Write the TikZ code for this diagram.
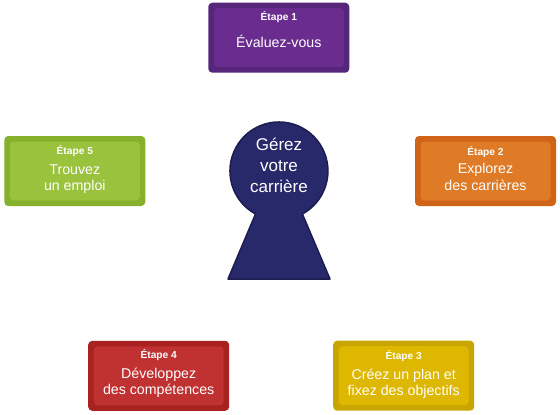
\documentclass[tikz,border=0pt]{standalone}
\usepackage{fontspec}
\setmainfont{Liberation Sans}
\definecolor{pfill}{HTML}{6A2D8F}\definecolor{pbord}{HTML}{55267A}
\definecolor{ofill}{HTML}{DF7A26}\definecolor{obord}{HTML}{CF6418}
\definecolor{gfill}{HTML}{9AC23C}\definecolor{gbord}{HTML}{86B12C}
\definecolor{rfill}{HTML}{C03131}\definecolor{rbord}{HTML}{A82222}
\definecolor{yfill}{HTML}{DEB700}\definecolor{ybord}{HTML}{C9A500}
\definecolor{navy}{HTML}{28296A}\definecolor{navyb}{HTML}{1C1C50}
\tikzset{
  stepbox/.style 2 args={fill=#2, rounded corners=4pt, minimum width=141pt,
    minimum height=70pt, inner sep=0pt,
    path picture={\fill[#1] ([shift={(5.5pt,5.5pt)}]path picture bounding box.south west)
      rectangle ([shift={(-5.5pt,-5.5pt)}]path picture bounding box.north east);}},
  steplbl/.style={text=white, inner sep=0pt, anchor=base, font=\fontsize{10.2}{12}\selectfont\bfseries},
  steptxt/.style={text=white, inner sep=0pt, anchor=base, font=\fontsize{14.2}{16}\selectfont},
  keytxt/.style={text=white, inner sep=0pt, anchor=base, font=\fontsize{17}{20}\selectfont},
  keyhole/.style={fill=navy, draw=navyb, line width=1.5pt, line join=round}
}
\begin{document}
\begin{tikzpicture}[x=1pt,y=-1pt]
\useasboundingbox (0,0) rectangle (560,415);
% keyhole
\draw[keyhole] (228,279) -- (255.5,214) arc[start angle=118.6, end angle=421.4, radius=49] -- (330,279) -- cycle;
\node[keytxt] (k1) at (279,150) {Gérez};
\node[keytxt] (k2) at (279,171.5) {votre};
\node[keytxt] (k3) at (279,192.5) {carrière};
% step 1
\node[stepbox={pfill}{pbord}] (b1) at (278.8,37.7) {};
\node[steplbl] (b1a) at ([yshift=-17.5pt]b1.north) {Étape 1};
\node[steptxt] (b1b) at ([yshift=-44.5pt]b1.north) {Évaluez-vous};
% step 2
\node[stepbox={ofill}{obord}] (b2) at (485.5,171) {};
\node[steplbl] (b2a) at ([yshift=-20pt]b2.north) {Étape 2};
\node[steptxt] (b2b) at ([yshift=-37.5pt]b2.north) {Explorez};
\node[steptxt] (b2c) at ([yshift=-54.5pt]b2.north) {des carrières};
% step 3
\node[stepbox={yfill}{ybord}] (b3) at (403.7,375.7) {};
\node[steplbl] (b3a) at ([yshift=-18.5pt]b3.north) {Étape 3};
\node[steptxt] (b3b) at ([yshift=-39pt]b3.north) {Créez un plan et};
\node[steptxt] (b3c) at ([yshift=-55pt]b3.north) {fixez des objectifs};
% step 4
\node[stepbox={rfill}{rbord}] (b4) at (158.7,375.8) {};
\node[steplbl] (b4a) at ([yshift=-18pt]b4.north) {Étape 4};
\node[steptxt] (b4b) at ([yshift=-38pt]b4.north) {Développez};
\node[steptxt] (b4c) at ([yshift=-53.5pt]b4.north) {des compétences};
% step 5
\node[stepbox={gfill}{gbord}] (b5) at (74.8,171) {};
\node[steplbl] (b5a) at ([yshift=-18.5pt]b5.north) {Étape 5};
\node[steptxt] (b5b) at ([yshift=-38.5pt]b5.north) {Trouvez};
\node[steptxt] (b5c) at ([yshift=-55pt]b5.north) {un emploi};
\end{tikzpicture}
\end{document}
